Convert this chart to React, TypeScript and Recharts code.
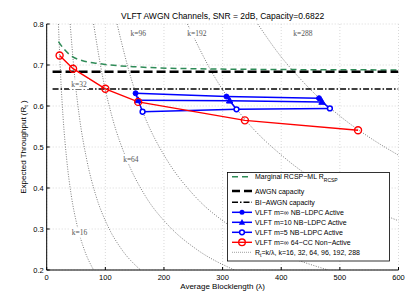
import React from "react";
import {
  LineChart,
  Line,
  XAxis,
  YAxis,
  CartesianGrid,
  ReferenceDot,
} from "recharts";

// ---------- data ----------
const xTicks = [0, 100, 200, 300, 400, 500, 600];
const yTicks = [0.2, 0.3, 0.4, 0.5, 0.6, 0.7, 0.8];

const rcspLambda = [20, 30, 43, 60, 91, 159, 250, 400, 600];
const rcspRate = [0.757, 0.738, 0.721, 0.711, 0.703, 0.695, 0.691, 0.689, 0.688];

const capLambda = [10, 600];
const awgnRate = [0.6835, 0.6835];
const biawgnRate = [0.6415, 0.6415];

const mInfLambda = [151.6, 306.6, 464.5];
const mInfRate = [0.631, 0.623, 0.619];
const m10Lambda = [156, 312, 469.6];
const m10Rate = [0.614, 0.613, 0.61];
const m5Lambda = [163.5, 323.7, 483];
const m5Rate = [0.586, 0.592, 0.594];

const ccLambda = [22, 45, 100, 156, 338, 531];
const ccRate = [0.723, 0.691, 0.642, 0.61, 0.565, 0.541];

// R_t = k / lambda contours (values listed)
const contourRate = [0.8, 0.667, 0.571, 0.471, 0.381, 0.308, 0.25, 0.2];
const k16Lambda = [20, 24, 28, 34, 42, 52, 64, 80];
const k32Lambda = [40, 48, 56, 68, 84, 104, 128, 160];
const k64Lambda = [80, 96, 112, 136, 168, 208, 256, 320];
const k96Lambda = [120, 144, 168, 204, 252, 312, 384, 480];
const k192Lambda = [240, 288, 336, 408, 504, 600];
const k192Rate = [0.8, 0.667, 0.571, 0.471, 0.381, 0.32];
const k288Lambda = [360, 396, 432, 468, 504, 552, 600];
const k288Rate = [0.8, 0.727, 0.667, 0.615, 0.571, 0.522, 0.48];

const contourLabels = ["k=16", "k=32", "k=64", "k=96", "k=192", "k=288"];
const contourLabelLambda = [55.9, 55, 143.6, 156, 256, 437];
const contourLabelRate = [0.291, 0.653, 0.471, 0.777, 0.777, 0.777];

const titleText = "VLFT AWGN Channels, SNR = 2dB, Capacity=0.6822";
const xLabel = "Average Blocklength (\u03bb)";
const yLabel = "Expected Throughput (R";

// ---------- helpers ----------
const pts = (xs: number[], ys: number[]) => xs.map((x, i) => ({ x, y: ys[i] }));

const leftCluster = pts(
  [mInfLambda[0], m10Lambda[0], m5Lambda[0]],
  [mInfRate[0], m10Rate[0], m5Rate[0]]
);
const midCluster = pts(
  [mInfLambda[1], m10Lambda[1], m5Lambda[1]],
  [mInfRate[1], m10Rate[1], m5Rate[1]]
);
const rightCluster = pts(
  [mInfLambda[2], m10Lambda[2], m5Lambda[2]],
  [mInfRate[2], m10Rate[2], m5Rate[2]]
);

const FONT = "'Liberation Sans', Arial, Helvetica, sans-serif";
const BLUE = "#0000ff";
const RED = "#ff0000";
const GREEN = "#2e8b57";
const CONTOUR = "#444";

const FilledDot = (p: any) =>
  p.cx == null ? <g key={p.index} /> : (
    <circle key={p.index} cx={p.cx} cy={p.cy} r={2.5} fill={BLUE} stroke={BLUE} strokeWidth={1} />
  );
const TriDot = (p: any) =>
  p.cx == null ? <g key={p.index} /> : (
    <path
      key={p.index}
      d={`M${p.cx},${p.cy - 3.4} L${p.cx + 3.2},${p.cy + 2.4} L${p.cx - 3.2},${p.cy + 2.4} Z`}
      fill={BLUE}
      stroke={BLUE}
      strokeWidth={1}
    />
  );
const RingDot = (p: any) =>
  p.cx == null ? <g key={p.index} /> : (
    <circle key={p.index} cx={p.cx} cy={p.cy} r={2.4} fill="#fff" stroke={BLUE} strokeWidth={1.5} />
  );
const RedRing = (p: any) =>
  p.cx == null ? <g key={p.index} /> : (
    <circle key={p.index} cx={p.cx} cy={p.cy} r={3.5} fill="none" stroke={RED} strokeWidth={1.4} />
  );

const makeLabelShape = (text: string) => (p: any) =>
  (
    <g>
      <rect x={p.cx - 10} y={p.cy - 5} width={20} height={10} fill="#fff" />
      <text
        x={p.cx}
        y={p.cy + 2.7}
        textAnchor="middle"
        fontFamily="'Liberation Serif', 'DejaVu Serif', serif"
        fontSize={7.5}
        fill="#555"
      >
        {text}
      </text>
    </g>
  );

const contours = [
  pts(k16Lambda, contourRate),
  pts(k32Lambda, contourRate),
  pts(k64Lambda, contourRate),
  pts(k96Lambda, contourRate),
  pts(k192Lambda, k192Rate),
  pts(k288Lambda, k288Rate),
];

// ---------- legend ----------
const LegendBox = () => {
  const rows = [176.7, 191, 202.3, 212.3, 222.3, 232.3, 242.3, 252.3].map((v) => v - 172);
  const x1 = 5;
  const x2 = 25;
  const xm = 15;
  const tx = 28;
  const ts = { fontFamily: FONT, fontSize: 7, fill: "#000" } as any;
  return (
    <svg
      width={163}
      height={90}
      style={{ position: "absolute", left: 227, top: 172, pointerEvents: "none" }}
    >
      <rect x={0.5} y={0.5} width={162} height={88.5} fill="#fff" stroke="#000" strokeWidth={0.8} />
      <line x1={x1} x2={x2} y1={rows[0]} y2={rows[0]} stroke={GREEN} strokeWidth={1.5} strokeDasharray="6 4" />
      <text x={tx} y={rows[0] + 2.5} {...ts}>
        Marginal RCSP{"\u2212"}ML R
        <tspan fontSize={5} dy={2.5}>RCSP</tspan>
      </text>
      <line x1={x1} x2={x2} y1={rows[1]} y2={rows[1]} stroke="#000" strokeWidth={2.5} strokeDasharray="8 4" />
      <text x={tx} y={rows[1] + 2.5} {...ts}>AWGN capacity</text>
      <line x1={x1} x2={x2} y1={rows[2]} y2={rows[2]} stroke="#000" strokeWidth={1.5} strokeDasharray="6 2 1.5 2" />
      <text x={tx} y={rows[2] + 2.5} {...ts}>BI{"\u2212"}AWGN capacity</text>
      <line x1={x1} x2={x2} y1={rows[3]} y2={rows[3]} stroke={BLUE} strokeWidth={1.5} />
      <circle cx={xm} cy={rows[3]} r={2.5} fill={BLUE} />
      <text x={tx} y={rows[3] + 2.5} {...ts}>VLFT m={"\u221e"} NB{"\u2212"}LDPC Active</text>
      <line x1={x1} x2={x2} y1={rows[4]} y2={rows[4]} stroke={BLUE} strokeWidth={1.5} />
      <path d={`M${xm},${rows[4] - 3.4} L${xm + 3.2},${rows[4] + 2.4} L${xm - 3.2},${rows[4] + 2.4} Z`} fill={BLUE} />
      <text x={tx} y={rows[4] + 2.5} {...ts}>VLFT m=10 NB{"\u2212"}LDPC Active</text>
      <line x1={x1} x2={x2} y1={rows[5]} y2={rows[5]} stroke={BLUE} strokeWidth={1.5} />
      <circle cx={xm} cy={rows[5]} r={2.4} fill="#fff" stroke={BLUE} strokeWidth={1.5} />
      <text x={tx} y={rows[5] + 2.5} {...ts}>VLFT m=5 NB{"\u2212"}LDPC Active</text>
      <line x1={x1} x2={x2} y1={rows[6]} y2={rows[6]} stroke={RED} strokeWidth={1.4} />
      <circle cx={xm} cy={rows[6]} r={3.3} fill="none" stroke={RED} strokeWidth={1.4} />
      <text x={tx} y={rows[6] + 2.5} {...ts}>VLFT m={"\u221e"} 64{"\u2212"}CC Non{"\u2212"}Active</text>
      <line x1={x1} x2={x2} y1={rows[7]} y2={rows[7]} stroke="#777" strokeWidth={0.7} strokeDasharray="1 1" />
      <text x={tx} y={rows[7] + 2.5} {...ts}>
        R<tspan fontSize={5} dy={2}>t</tspan>
        <tspan dy={-2}>=k/{"\u03bb"}, k=16, 32, 64, 96, 192, 288</tspan>
      </text>
    </svg>
  );
};

export default function App() {
  return (
    <div style={{ position: "absolute", left: 0, top: 0, width: 407, height: 293, background: "#fff" }}>
      <LineChart width={407} height={293} margin={{ top: 24, right: 8.5, bottom: 0, left: 0 }}>
        <CartesianGrid stroke="#c8c8c8" strokeDasharray="1 2" strokeWidth={0.7} />
        <XAxis
          xAxisId={0}
          type="number"
          dataKey="x"
          domain={[0, 600]}
          ticks={xTicks}
          allowDataOverflow
          height={23}
          tickSize={-3}
          tickMargin={8}
          axisLine={{ stroke: "#000" }}
          tickLine={{ stroke: "#000" }}
          tick={{ fontFamily: FONT, fontSize: 7.5, fill: "#000" }}
          interval={0}
        />
        <XAxis
          xAxisId="top"
          orientation="top"
          type="number"
          domain={[0, 600]}
          ticks={xTicks}
          allowDataOverflow
          height={0}
          tickSize={-3}
          tick={false}
          axisLine={{ stroke: "#000" }}
          tickLine={{ stroke: "#000" }}
        />
        <YAxis
          yAxisId={0}
          type="number"
          domain={[0.2, 0.8]}
          ticks={yTicks}
          allowDataOverflow
          width={46.7}
          tickSize={-3}
          tickMargin={6}
          tickFormatter={(v: number) => v.toFixed(1)}
          axisLine={{ stroke: "#000" }}
          tickLine={{ stroke: "#000" }}
          tick={{ fontFamily: FONT, fontSize: 7.5, fill: "#000" }}
          interval={0}
        />
        <YAxis
          yAxisId="right"
          orientation="right"
          type="number"
          domain={[0.2, 0.8]}
          ticks={yTicks}
          allowDataOverflow
          width={0}
          tickSize={-3}
          tick={false}
          axisLine={{ stroke: "#000" }}
          tickLine={{ stroke: "#000" }}
        />

        {contours.map((c, i) => (
          <Line
            key={"k" + i}
            data={c}
            dataKey="y"
            type="monotone"
            stroke={CONTOUR}
            strokeWidth={0.7}
            strokeDasharray="1 1.5"
            dot={false}
            isAnimationActive={false}
          />
        ))}
        {contourLabels.map((t, i) => (
          <ReferenceDot
            key={"kl" + i}
            x={contourLabelLambda[i]}
            y={contourLabelRate[i]}
            r={0}
            shape={makeLabelShape(t)}
          />
        ))}

        <Line data={pts(rcspLambda, rcspRate)} dataKey="y" type="monotone" stroke={GREEN} strokeWidth={1.5} strokeDasharray="6 4" dot={false} isAnimationActive={false} />
        <Line data={pts(capLambda, awgnRate)} dataKey="y" type="linear" stroke="#000" strokeWidth={2.5} strokeDasharray="9 4" dot={false} isAnimationActive={false} />
        <Line data={pts(capLambda, biawgnRate)} dataKey="y" type="linear" stroke="#000" strokeWidth={1.5} strokeDasharray="6 2 1.5 2" dot={false} isAnimationActive={false} />

        <Line data={leftCluster} dataKey="y" type="linear" stroke={BLUE} strokeWidth={1.5} dot={false} isAnimationActive={false} />
        <Line data={midCluster} dataKey="y" type="linear" stroke={BLUE} strokeWidth={1.5} dot={false} isAnimationActive={false} />
        <Line data={rightCluster} dataKey="y" type="linear" stroke={BLUE} strokeWidth={1.5} dot={false} isAnimationActive={false} />

        <Line data={pts(mInfLambda, mInfRate)} dataKey="y" type="linear" stroke={BLUE} strokeWidth={1.5} dot={FilledDot} isAnimationActive={false} />
        <Line data={pts(m10Lambda, m10Rate)} dataKey="y" type="linear" stroke={BLUE} strokeWidth={1.5} dot={TriDot} isAnimationActive={false} />
        <Line data={pts(m5Lambda, m5Rate)} dataKey="y" type="linear" stroke={BLUE} strokeWidth={1.5} dot={RingDot} isAnimationActive={false} />

        <Line data={pts(ccLambda, ccRate)} dataKey="y" type="linear" stroke={RED} strokeWidth={1.4} dot={RedRing} isAnimationActive={false} />
      </LineChart>

      <svg width={407} height={293} style={{ position: "absolute", left: 0, top: 0, pointerEvents: "none" }}>
        <text x={222.6} y={18.5} textAnchor="middle" fontFamily={FONT} fontSize={8.5} fill="#000">
          {titleText}
        </text>
        <text x={222.6} y={289} textAnchor="middle" fontFamily={FONT} fontSize={8} fill="#000">
          {xLabel}
        </text>
        <text
          x={0}
          y={0}
          transform="translate(25.5,147) rotate(-90)"
          textAnchor="middle"
          fontFamily={FONT}
          fontSize={8}
          fill="#000"
        >
          {yLabel}
          <tspan fontSize={5.5} dy={2}>t</tspan>
          <tspan dy={-2}> )</tspan>
        </text>
      </svg>
      <LegendBox />
    </div>
  );
}
